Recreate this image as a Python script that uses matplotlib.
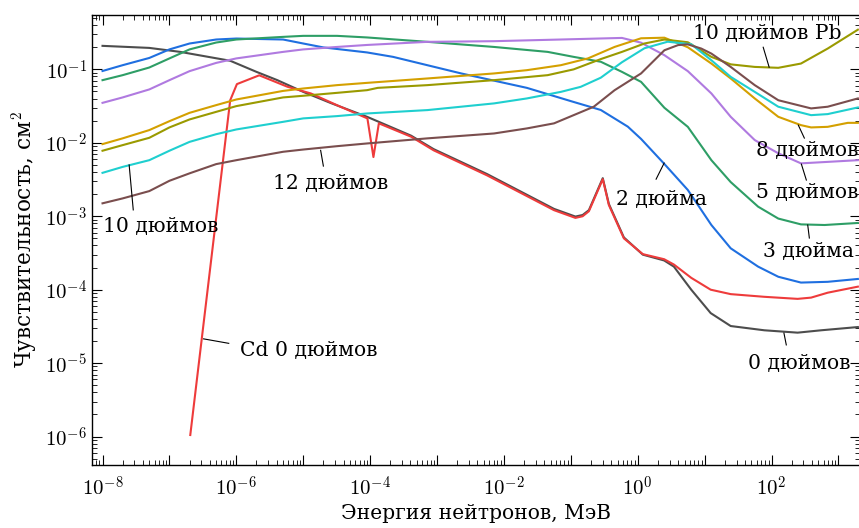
import matplotlib
matplotlib.use('Agg')
import matplotlib.pyplot as plt
from matplotlib.ticker import FixedLocator, FuncFormatter, NullFormatter
import numpy as np

plt.rcParams['font.family'] = ['DejaVu Serif']
plt.rcParams['mathtext.fontset'] = 'cm'

# 0 inch (bare detector)
e_0 = [1e-8, 5e-8, 1.45e-7, 8.1e-7, 2.0e-6, 4.1e-6, 1e-5, 2.6e-5, 9e-5, 4.1e-4, 8.9e-4,
       5.6e-3, 0.056, 0.117, 0.15, 0.186, 0.30, 0.37, 0.62, 1.19, 2.48, 3.47, 6.3, 12.3,
       24.5, 78, 245, 550, 1950]
s_0 = [0.209, 0.196, 0.173, 0.131, 0.0925, 0.0713, 0.0494, 0.0347, 0.0226, 0.0125, 8.2e-3,
       3.75e-3, 1.26e-3, 9.9e-4, 1.04e-3, 1.21e-3, 3.3e-3, 1.47e-3, 5.15e-4, 3.0e-4, 2.5e-4,
       2.06e-4, 1.0e-4, 4.8e-5, 3.2e-5, 2.8e-5, 2.6e-5, 2.8e-5, 3.1e-5]

# Cd 0 inch
e_cd = [2.05e-7, 8.1e-7, 1.02e-6, 2.2e-6, 5.8e-6, 1.3e-5, 3.6e-5, 9.1e-5, 1.12e-4, 1.35e-4,
        4.1e-4, 8.9e-4, 5.6e-3, 0.056, 0.117, 0.15, 0.186, 0.30, 0.37, 0.62, 1.19, 2.48,
        3.47, 6.3, 12.3, 24.5, 78, 245, 390, 690, 1950]
s_cd = [1.05e-6, 0.038, 0.063, 0.083, 0.058, 0.047, 0.031, 0.0215, 6.4e-3, 0.0184,
        0.0121, 7.9e-3, 3.6e-3, 1.21e-3, 9.5e-4, 1.0e-3, 1.17e-3, 3.2e-3, 1.42e-3, 5.0e-4,
        3.05e-4, 2.6e-4, 2.2e-4, 1.45e-4, 1.0e-4, 8.7e-5, 8.0e-5, 7.5e-5, 7.8e-5, 9.1e-5, 1.1e-4]

# 2 inch
e_2 = [1e-8, 2e-8, 5e-8, 1e-7, 2e-7, 5e-7, 1e-6, 5e-6, 1e-5, 2e-5, 9e-5, 2.2e-4, 2.3e-3,
       0.022, 0.11, 0.28, 0.71, 1.12, 2.45, 5.6, 12.6, 24.5, 63, 126, 275, 690, 1950]
s_2 = [0.095, 0.114, 0.143, 0.187, 0.225, 0.255, 0.263, 0.255, 0.225, 0.199, 0.170, 0.148,
       0.088, 0.056, 0.036, 0.028, 0.0166, 0.0113, 5.25e-3, 2.28e-3, 7.6e-4, 3.66e-4,
       2.06e-4, 1.5e-4, 1.25e-4, 1.28e-4, 1.4e-4]

# 3 inch
e_3 = [1e-8, 2e-8, 5e-8, 1e-7, 2e-7, 5e-7, 1e-6, 5e-6, 1e-5, 3.2e-5, 9e-5, 7.2e-4, 7.1e-3,
       0.045, 0.11, 0.28, 0.58, 1.12, 2.5, 5.6, 12.6, 24.5, 63, 126, 275, 620, 1950]
s_3 = [0.0713, 0.0834, 0.106, 0.141, 0.187, 0.232, 0.255, 0.277, 0.286, 0.286, 0.272, 0.237,
       0.202, 0.173, 0.148, 0.127, 0.0925, 0.0676, 0.030, 0.0165, 5.8e-3, 2.92e-3, 1.35e-3,
       9.3e-4, 7.75e-4, 7.6e-4, 8.1e-4]

# 5 inch
e_5 = [1e-8, 2e-8, 5e-8, 1e-7, 2e-7, 5e-7, 1e-6, 5e-6, 1e-5, 3.2e-5, 9e-5, 7.2e-4, 7.1e-3,
       0.071, 0.58, 1.12, 2.5, 5.6, 12.6, 24.5, 56, 126, 275, 690, 1950]
s_5 = [0.035, 0.0415, 0.0533, 0.0713, 0.0946, 0.1225, 0.141, 0.173, 0.187, 0.202, 0.215,
       0.237, 0.242, 0.255, 0.268, 0.231, 0.156, 0.0946, 0.047, 0.0226, 0.0109, 7.2e-3,
       5.25e-3, 5.5e-3, 5.8e-3]

# 8 inch
e_8 = [1e-8, 2e-8, 5e-8, 1e-7, 2e-7, 5e-7, 1e-6, 5e-6, 1e-5, 3.2e-5, 9e-5, 7.2e-4, 7.1e-3,
       0.022, 0.071, 0.18, 0.45, 1.12, 2.5, 5.6, 12.6, 24.5, 56, 126, 275, 390, 690, 1380, 1950]
s_8 = [9.6e-3, 0.0115, 0.0149, 0.0197, 0.0256, 0.0326, 0.0389, 0.0509, 0.0549, 0.061, 0.0655,
       0.0752, 0.088, 0.0975, 0.114, 0.141, 0.202, 0.265, 0.27, 0.2, 0.12, 0.0752, 0.0402,
       0.0226, 0.0174, 0.0162, 0.0165, 0.0187, 0.0187]

# 10 inch Pb
e_pb = [1e-8, 2e-8, 5e-8, 1e-7, 2e-7, 5e-7, 1e-6, 5e-6, 1e-5, 3.2e-5, 9e-5, 1.3e-4, 7.2e-4,
        7.1e-3, 0.045, 0.11, 0.28, 0.58, 1.26, 2.5, 5.6, 12.6, 24.5, 56, 126, 275, 690, 1950]
s_pb = [7.8e-3, 9.3e-3, 0.0117, 0.0162, 0.0208, 0.0264, 0.0316, 0.0415, 0.0437, 0.0479,
        0.0521, 0.056, 0.061, 0.0713, 0.0834, 0.1, 0.138, 0.173, 0.225, 0.255, 0.234, 0.148,
        0.117, 0.108, 0.105, 0.12, 0.192, 0.347]

# 10 inch
e_10 = [1e-8, 2e-8, 5e-8, 1e-7, 2e-7, 5e-7, 1e-6, 5e-6, 1e-5, 3.2e-5, 9e-5, 7.2e-4, 7.1e-3,
        0.022, 0.071, 0.14, 0.28, 0.58, 1.26, 2.8, 6.3, 12.6, 24.5, 56, 126, 390, 690, 1950]
s_10 = [3.9e-3, 4.7e-3, 5.8e-3, 7.8e-3, 0.0103, 0.0131, 0.0152, 0.0193, 0.0215, 0.0231,
        0.0251, 0.0279, 0.0344, 0.0402, 0.0494, 0.0578, 0.077, 0.125, 0.194, 0.238, 0.22,
        0.133, 0.079, 0.0494, 0.031, 0.0238, 0.0246, 0.0303]

# 12 inch
e_12 = [1e-8, 2e-8, 5e-8, 1e-7, 2e-7, 5e-7, 1e-6, 5e-6, 1e-5, 3.2e-5, 9e-5, 7.2e-4, 7.1e-3,
        0.022, 0.056, 0.11, 0.22, 0.45, 1.12, 2.5, 4.0, 5.6, 8.9, 12.6, 24.5, 56, 126, 390,
        690, 1950]
s_12 = [1.5e-3, 1.75e-3, 2.2e-3, 3.04e-3, 3.84e-3, 5.13e-3, 5.8e-3, 7.55e-3, 8.1e-3, 9.0e-3,
        9.8e-3, 0.0115, 0.0134, 0.0157, 0.0184, 0.0238, 0.031, 0.052, 0.088, 0.182, 0.214,
        0.219, 0.192, 0.164, 0.108, 0.061, 0.038, 0.0294, 0.031, 0.0402]

curves = [
    (e_0, s_0, '#4d4d4d'),
    (e_cd, s_cd, '#ee3b3b'),
    (e_2, s_2, '#1f6fe0'),
    (e_3, s_3, '#2e9e66'),
    (e_5, s_5, '#b07ae0'),
    (e_8, s_8, '#d4a000'),
    (e_pb, s_pb, '#9a9a00'),
    (e_10, s_10, '#1fcfcf'),
    (e_12, s_12, '#7a4e4e'),
]

# label text, text position, leader start, leader end, alignment
labels = [
    ('10 дюймов Pb', (86, 0.31), (75, 0.2), (92, 0.107), 'center'),
    ('8 дюймов', (340, 7.96e-3), (309, 0.0116), (251, 0.0174), 'center'),
    ('5 дюймов', (340, 2.13e-3), (331, 3.11e-3), (279, 5.13e-3), 'center'),
    ('3 дюйма', (355, 3.26e-4), (367, 5.05e-4), (347, 7.6e-4), 'center'),
    ('0 дюймов', (259, 1.0e-5), (166, 1.77e-5), (153, 2.57e-5), 'center'),
    ('2 дюйма', (2.23, 1.71e-3), (1.88, 3.2e-3), (2.48, 5.3e-3), 'center'),
    ('12 дюймов', (2.56e-5, 2.83e-3), (2.0e-5, 4.82e-3), (1.82e-5, 7.9e-3), 'center'),
    ('10 дюймов', (7.3e-8, 7.36e-4), (2.88e-8, 1.22e-3), (2.5e-8, 5.0e-3), 'center'),
    ('Cd 0 дюймов', (1.12e-6, 1.47e-5), (7.7e-7, 1.86e-5), (3.24e-7, 2.14e-5), 'left'),
]

x_decades = np.logspace(-8, 3, 12)
y_decades = np.logspace(-6, -1, 6)

fig = plt.figure(figsize=(8.59, 5.28), dpi=100)
ax = fig.add_axes([0.1068, 0.1193, 0.8944, 0.8523])

for e, s, c in curves:
    ax.plot(e, s, color=c, lw=1.5)

for text, pos, p1, p2, ha in labels:
    ax.plot([p1[0], p2[0]], [p1[1], p2[1]], color='black', lw=0.8)
    ax.text(pos[0], pos[1], text, fontsize=14.6, ha=ha, va='center')

ax.set_xscale('log')
ax.set_yscale('log')
ax.set_xlim(6.9e-9, 2.1e3)
ax.set_ylim(4.1e-7, 0.55)

x_minor = [m * d for d in np.logspace(-9, 3, 13) for m in range(2, 10)]
y_minor = [m * d for d in np.logspace(-7, -1, 7) for m in range(2, 10)]

ax.xaxis.set_major_locator(FixedLocator(x_decades))
ax.xaxis.set_minor_locator(FixedLocator(x_minor))
ax.xaxis.set_major_formatter(FuncFormatter(
    lambda v, p: r'$10^{%d}$' % round(np.log10(v)) if round(np.log10(v)) % 2 == 0 else ''))
ax.xaxis.set_minor_formatter(NullFormatter())
ax.yaxis.set_major_locator(FixedLocator(y_decades))
ax.yaxis.set_minor_locator(FixedLocator(y_minor))
ax.yaxis.set_major_formatter(FuncFormatter(lambda v, p: r'$10^{%d}$' % round(np.log10(v))))
ax.yaxis.set_minor_formatter(NullFormatter())

ax.tick_params(which='both', direction='in', top=True, right=True, labelsize=15)
ax.tick_params(axis='x', which='major', pad=8)
ax.tick_params(which='major', length=7, width=0.8)
ax.tick_params(which='minor', length=3.5, width=0.6)
for sp in ax.spines.values():
    sp.set_linewidth(1.0)

ax.set_xlabel('Энергия нейтронов, МэВ', fontsize=14.6, labelpad=3)
ax.set_ylabel('Чувствительность, см$^2$', fontsize=15.5, labelpad=4)

fig.savefig('out.png', dpi=100)
